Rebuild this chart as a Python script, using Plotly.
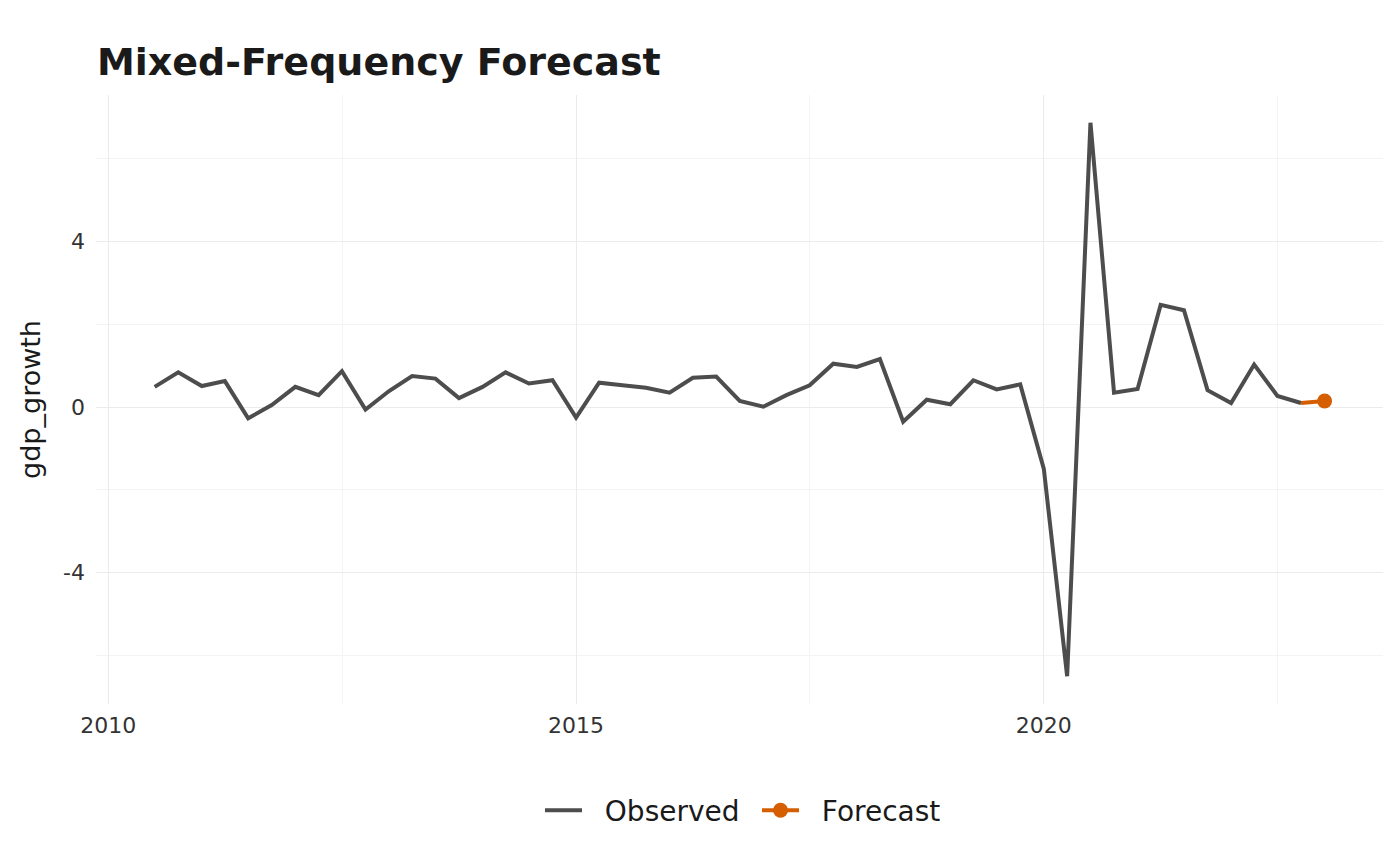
import pandas as pd
import plotly.graph_objects as go

# 분기별 관측치 (2010 Q3 ~ 2022 Q4)
obs_dates = pd.date_range('2010-07-01', periods=50, freq='QS')
obs_values = [
    0.49, 0.84, 0.51, 0.63, -0.27, 0.05, 0.49, 0.29, 0.87, -0.06,
    0.39, 0.75, 0.69, 0.22, 0.49, 0.84, 0.57, 0.65, -0.25, 0.59,
    0.53, 0.47, 0.35, 0.71, 0.74, 0.15, 0.01, 0.29, 0.53, 1.05,
    0.97, 1.16, -0.35, 0.18, 0.07, 0.65, 0.43, 0.55, -1.49, -6.50,
    6.87, 0.35, 0.44, 2.47, 2.34, 0.41, 0.10, 1.03, 0.27, 0.10,
]

# 예측치 (마지막 관측치에서 이어짐)
fc_dates = ['2022-10-01', '2023-01-01']
fc_values = [0.10, 0.15]

x_tickvals = ['2010-01-01', '2015-01-01', '2020-01-01']
x_ticktext = ['2010', '2015', '2020']
x_minorvals = ['2012-07-02', '2017-07-02', '2022-07-02']
y_tickvals = [-4, 0, 4]
y_ticktext = ['-4', '0', '4']
y_minorvals = [-6, -2, 2, 6]

obs_color = '#4D4D4D'
fc_color = '#D55E00'
font = 'DejaVu Sans'
pad = '\u00a0\u00a0'  # 범례 기호와 글자 사이 간격

# 페이지 body 기본 여백(8px) 보정
W, H = 1392, 858

fig = go.Figure()

fig.add_trace(go.Scatter(
    x=obs_dates,
    y=obs_values,
    mode='lines',
    name=pad + 'Observed',
    line=dict(color=obs_color, width=4),
))

# 예측 연결선
fig.add_trace(go.Scatter(
    x=fc_dates,
    y=fc_values,
    mode='lines',
    line=dict(color=fc_color, width=4),
    showlegend=False,
    hoverinfo='skip',
))

# 예측 점
fig.add_trace(go.Scatter(
    x=fc_dates[-1:],
    y=fc_values[-1:],
    mode='lines+markers',
    name=pad + 'Forecast',
    line=dict(color=fc_color, width=4),
    marker=dict(color=fc_color, size=15),
))

fig.update_layout(
    width=W,
    height=H,
    template='plotly_white',
    paper_bgcolor='white',
    plot_bgcolor='white',
    font=dict(family=font, color='#1A1A1A'),
    margin=dict(l=88, r=17, t=87, b=162),
    title=dict(
        text='<b>Mixed-Frequency Forecast</b>',
        x=89 / W,
        xanchor='left',
        xref='container',
        y=1 - 54 / H,
        yanchor='middle',
        font=dict(family=font, size=38, color='#1A1A1A'),
    ),
    legend=dict(
        orientation='h',
        x=0.345,
        xanchor='left',
        y=-0.175,
        yanchor='middle',
        font=dict(family=font, size=28, color='#1A1A1A'),
        itemwidth=37,
        entrywidth=165,
        entrywidthmode='pixels',
    ),
    showlegend=True,
)

fig.update_xaxes(
    type='date',
    range=['2009-11-14', '2023-08-17'],
    tickvals=x_tickvals,
    ticktext=x_ticktext,
    showgrid=True,
    gridcolor='#EBEBEB',
    gridwidth=1,
    minor=dict(tickvals=x_minorvals, showgrid=True, gridcolor='#F4F4F4', gridwidth=1),
    zeroline=False,
    showline=False,
    ticks='',
    tickfont=dict(family=font, size=22, color='#333333'),
    ticklabelstandoff=6,
)

fig.update_yaxes(
    range=[-7.17, 7.54],
    tickvals=y_tickvals,
    ticktext=y_ticktext,
    showgrid=True,
    gridcolor='#EBEBEB',
    gridwidth=1,
    minor=dict(tickvals=y_minorvals, showgrid=True, gridcolor='#F4F4F4', gridwidth=1),
    zeroline=False,
    showline=False,
    ticks='',
    tickfont=dict(family=font, size=22, color='#333333'),
    title=dict(text='gdp_growth', font=dict(family=font, size=27, color='#1A1A1A'), standoff=14),
    ticklabelstandoff=10,
)

fig.write_html('out.html')
